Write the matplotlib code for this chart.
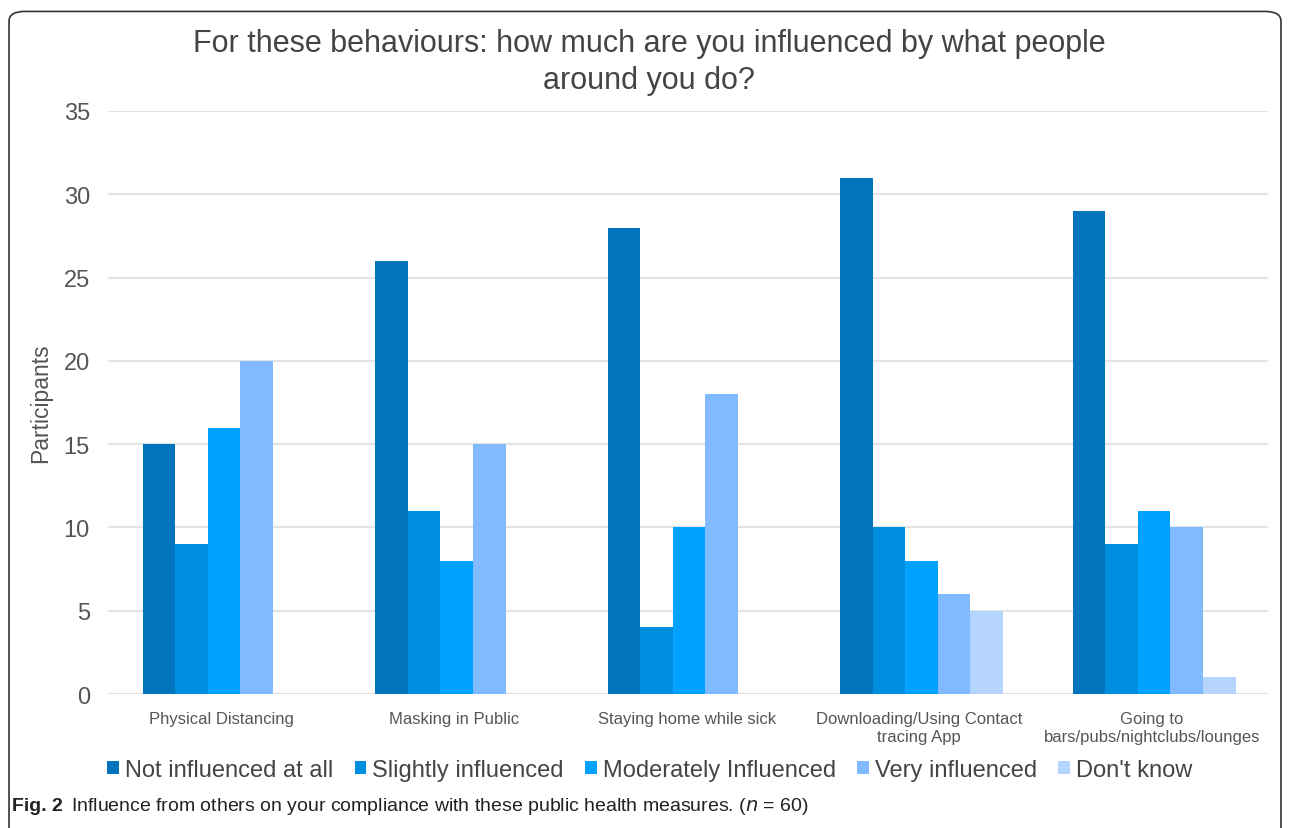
import matplotlib.pyplot as plt
import numpy as np
from matplotlib.patches import FancyBboxPatch

plt.rcParams['font.family'] = ['Liberation Sans', 'DejaVu Sans']

# data
behaviours = ['Physical Distancing', 'Masking in Public', 'Staying home while sick',
              'Downloading/Using Contact\ntracing App', 'Going to\nbars/pubs/nightclubs/lounges']
series = ['Not influenced at all', 'Slightly influenced', 'Moderately Influenced',
          'Very influenced', "Don't know"]
not_influenced = [15, 26, 28, 31, 29]
slightly = [9, 11, 4, 10, 9]
moderately = [16, 8, 10, 8, 11]
very = [20, 15, 18, 6, 10]
dont_know = [0, 0, 0, 5, 1]

colors = ['#0074BD', '#008FE0', '#00A2FF', '#82BAFF', '#B5D5FF']
values = [not_influenced, slightly, moderately, very, dont_know]

fig = plt.figure(figsize=(12.9, 8.29), dpi=100)
ax = fig.add_axes([0.0837, 0.1616, 0.8993, 0.7033])

x = np.arange(len(behaviours))
w = 0.14
for i, (name, vals) in enumerate(zip(series, values)):
    ax.bar(x + (i - 2) * w + 0.01, vals, width=w, color=colors[i], label=name, zorder=3)

ax.set_xlim(-0.49, 4.5)
ax.set_ylim(0, 35)
ax.set_yticks(range(0, 36, 5))
ax.yaxis.grid(True, color='#e3e3e3', linewidth=1.5, zorder=0)
ax.axhline(0, color='#e3e3e3', linewidth=1.5, zorder=1)
for s in ax.spines.values():
    s.set_visible(False)
ax.tick_params(length=0)
ax.tick_params(axis='y', labelsize=17, labelcolor='#555555', pad=13)
ax.set_xticks(x)
ax.set_xticklabels(behaviours, fontsize=12, color='#555555', linespacing=1.3)
ax.tick_params(axis='x', pad=12)
ax.set_ylabel('Participants', fontsize=16.5, color='#555555', labelpad=8)

fig.text(0.503, 0.925, 'For these behaviours: how much are you influenced by what people\naround you do?',
         ha='center', va='center', fontsize=22, color='#444444', linespacing=1.3)

ax.legend(loc='center', bbox_to_anchor=(0.467, -0.13), ncol=5, frameon=False,
          fontsize=17, handlelength=0.5, handleheight=0.5, handletextpad=0.25,
          columnspacing=0.9, labelcolor='#444444')

fig.text(0.009, 0.027, 'Fig. 2', fontsize=14, fontweight='bold', color='#222222', va='center')
fig.text(0.055, 0.027, 'Influence from others on your compliance with these public health measures. ($n$ = 60)',
         fontsize=14, color='#222222', va='center')

border = FancyBboxPatch((0.007, -0.05), 0.986, 1.035, boxstyle='round,pad=0,rounding_size=0.012',
                        transform=fig.transFigure, fill=False, edgecolor='#333333', linewidth=1.2)
fig.patches.append(border)

fig.savefig('out.png', dpi=100)
